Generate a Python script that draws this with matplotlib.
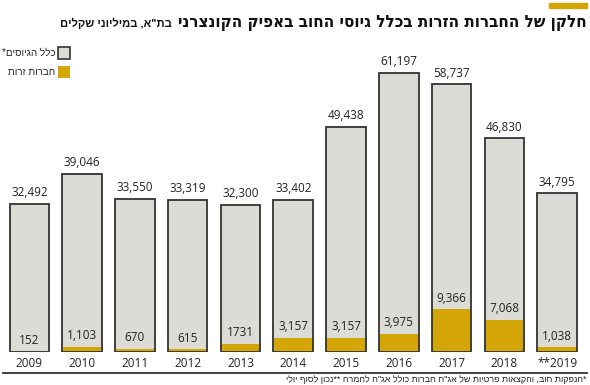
import numpy as np
import matplotlib
matplotlib.use('Agg')
import matplotlib.pyplot as plt

years = ['2009', '2010', '2011', '2012', '2013', '2014', '2015', '2016', '2017', '2018', '**2019']
total = [32492, 39046, 33550, 33319, 32300, 33402, 49438, 61197, 58737, 46830, 34795]
foreign = [152, 1103, 670, 615, 1731, 3157, 3157, 3975, 9366, 7068, 1038]
foreign_labels = ['152', '1,103', '670', '615', '1731', '3,157', '3,157', '3,975', '9,366', '7,068', '1,038']

title = 'חלקן של החברות הזרות בכלל גיוסי החוב באפיק הקונצרני'
subtitle = 'בת"א, במיליוני שקלים'
legend_total = 'כלל הגיוסים*'
legend_foreign = 'חברות זרות'
footnote = '*הנפקות חוב, והקצאות פרטיות של אג"ח חברות כולל אג"ח להמרה **נכון לסוף יולי'

GRAY = '#dcdcd7'
GOLD = '#d4a507'
EDGE = '#333333'
HEB = ['Liberation Sans', 'DejaVu Sans']
NUM = ['Open Sans', 'DejaVu Sans']

W, H = 590, 385


def rtl(s):
	# matplotlib has no bidi support, so flip the hebrew by hand
	return s[::-1]


def fx(px):
	return px / W


def fy(py):
	return 1 - py / H


fig = plt.figure(figsize=(W / 100, H / 100), dpi=100)
fig.patch.set_facecolor('white')

# axes placed in pixels: bars from y=352 (zero) upward
left, right, bottom, top = 3, 583.5, 352, 60
ax = fig.add_axes([fx(left), fy(bottom), fx(right - left), (bottom - top) / H])
ax.set_xlim(-0.5, len(years) - 0.5)
ax.set_ylim(0, 61197 * (bottom - top) / (bottom - 73))
ax.axis('off')

x = np.arange(len(years))
bw = 0.75
ax.bar(x, total, bw, color=GRAY, edgecolor='none', zorder=1)
ax.bar(x, foreign, bw, color=GOLD, edgecolor='none', zorder=2)
ax.bar(x, total, bw, fill=False, edgecolor=EDGE, linewidth=1.3, zorder=3)

for i in range(len(years)):
	ax.annotate(f'{total[i]:,}', (x[i], total[i]), xytext=(0, 8), textcoords='offset points',
		ha='center', va='center', fontsize=8.5, family=NUM, color='#222222')
	ax.annotate(foreign_labels[i], (x[i], foreign[i]), xytext=(0, 8), textcoords='offset points',
		ha='center', va='center', fontsize=8.5, family=NUM, color='#222222', zorder=4)
	ax.annotate(years[i], (x[i], 0), xytext=(0, -8), textcoords='offset points',
		ha='center', va='center', fontsize=8.5, family=NUM, color='#222222')

# gold rule and titles
fig.patches.append(plt.Rectangle((fx(549), fy(8)), fx(38), 5 / H, transform=fig.transFigure,
	color=GOLD, zorder=5))
t = fig.text(fx(587), fy(22), rtl(title), ha='right', va='center', fontsize=14.5,
	fontweight='bold', family=['DejaVu Sans'], fontstretch='condensed', color='#111111')
fig.canvas.draw()
bb = t.get_window_extent()
# the reference title is a narrow face; shrink to the same width
t.set_fontsize(14.5 * 405 / bb.width)
fig.canvas.draw()
bb = t.get_window_extent()
fig.text((bb.x0 - 6) / W, fy(23), rtl(subtitle), ha='right', va='center', fontsize=8,
	fontweight='bold', family=HEB, color='#111111')

# legend
fig.patches.append(plt.Rectangle((fx(58), fy(59)), fx(12), 12 / H, transform=fig.transFigure,
	facecolor=GRAY, edgecolor=EDGE, linewidth=1.2))
fig.patches.append(plt.Rectangle((fx(58), fy(78)), fx(12), 12 / H, transform=fig.transFigure,
	facecolor=GOLD, edgecolor='none'))
fig.text(fx(55), fy(53), rtl(legend_total), ha='right', va='center', fontsize=7, family=HEB,
	color='#222222')
fig.text(fx(55), fy(72), rtl(legend_foreign), ha='right', va='center', fontsize=7, family=HEB,
	color='#222222')

# bottom rule and footnote
fig.add_artist(plt.Line2D([fx(3), fx(587)], [fy(373), fy(373)], color='#333333', linewidth=1.3))
fig.text(fx(587), fy(380), rtl(footnote), ha='right', va='center', fontsize=6.4, family=HEB,
	color='#222222')

plt.savefig('out.png', dpi=100)
